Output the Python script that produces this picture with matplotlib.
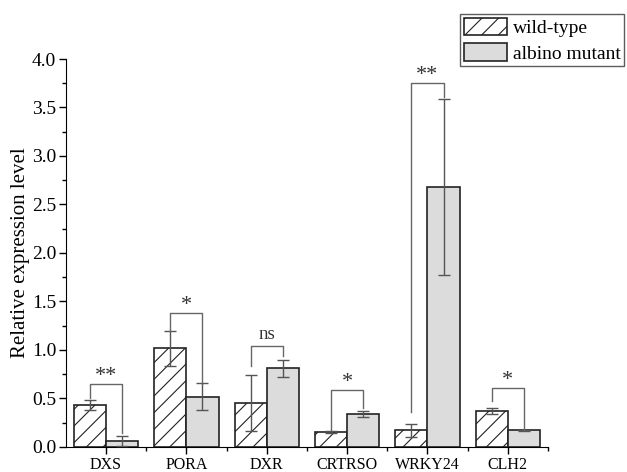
import numpy as np
import matplotlib
matplotlib.use("Agg")
import matplotlib.pyplot as plt
from matplotlib.ticker import MultipleLocator, FixedLocator

plt.rcParams['font.family'] = ['Liberation Serif', 'DejaVu Serif']
plt.rcParams['hatch.linewidth'] = 0.8

# data
genes = ['DXS', 'PORA', 'DXR', 'CRTRSO', 'WRKY24', 'CLH2']
wt = [0.43, 1.02, 0.45, 0.155, 0.17, 0.37]
wt_err = [0.05, 0.18, 0.29, 0.01, 0.07, 0.035]
mut = [0.06, 0.52, 0.81, 0.34, 2.68, 0.17]
mut_err = [0.05, 0.14, 0.09, 0.03, 0.91, 0.005]
# significance: label, bracket top, left leg bottom, right leg bottom
sig = ['**', '*', 'ns', '*', '**', '*']
br_top = [0.65, 1.38, 1.04, 0.59, 3.75, 0.61]
br_left = [0.50, 1.20, 0.83, 0.17, 0.36, 0.47]
br_right = [0.14, 0.65, 0.94, 0.40, 3.61, 0.18]

x = np.arange(len(genes))
w = 0.4

fig = plt.figure(figsize=(6.27, 4.72), dpi=100)
ax = fig.add_axes([0.105, 0.053, 0.769, 0.822])

ax.bar(x - w/2, wt, w, color='white', edgecolor='#222222', linewidth=1.2,
       hatch='//', label='wild-type', zorder=2)
ax.bar(x + w/2, mut, w, color='#dcdcdc', edgecolor='#222222', linewidth=1.2,
       label='albino mutant', zorder=2)
ax.errorbar(x - w/2, wt, yerr=wt_err, fmt='none', ecolor='#555555',
            elinewidth=1, capsize=4, capthick=1, zorder=3)
ax.errorbar(x + w/2, mut, yerr=mut_err, fmt='none', ecolor='#555555',
            elinewidth=1, capsize=4, capthick=1, zorder=3)

for i in range(len(genes)):
    xl, xr = x[i] - w/2, x[i] + w/2
    ax.plot([xl, xl, xr, xr], [br_left[i], br_top[i], br_top[i], br_right[i]],
            color='#666666', lw=1, zorder=4)
    off = 0.03 if sig[i] == 'ns' else -0.02
    ax.text(x[i], br_top[i] + off, sig[i], ha='center', va='bottom',
            fontsize=16 if sig[i] != 'ns' else 13.5, color='#333333')

ax.set_xlim(-0.5, 5.5)
ax.set_ylim(0, 4.0)
ax.spines['top'].set_visible(False)
ax.spines['right'].set_visible(False)
ax.set_xticks(x)
ax.set_xticklabels(genes, fontsize=11.5)
ax.xaxis.set_minor_locator(FixedLocator(x + 0.5))
ax.yaxis.set_major_locator(MultipleLocator(0.5))
ax.yaxis.set_minor_locator(MultipleLocator(0.25))
ax.yaxis.set_major_formatter(matplotlib.ticker.FormatStrFormatter('%.1f'))
ax.tick_params(axis='both', which='major', direction='out', length=5, width=1)
ax.tick_params(axis='both', which='minor', direction='out', length=3, width=1)
ax.tick_params(axis='x', which='major', pad=2, labelsize=11.5)
ax.tick_params(axis='y', which='major', pad=2, labelsize=14)
ax.set_ylabel('Relative expression level', fontsize=15, labelpad=1)

leg = fig.legend(loc='upper right', bbox_to_anchor=(0.996, 0.97), fontsize=14,
                 frameon=True, fancybox=False, edgecolor='#333333',
                 handlelength=2.2, handleheight=1.0, handletextpad=0.3,
                 borderpad=0.2, labelspacing=0.3, borderaxespad=0)

fig.savefig('out.png', dpi=100)
